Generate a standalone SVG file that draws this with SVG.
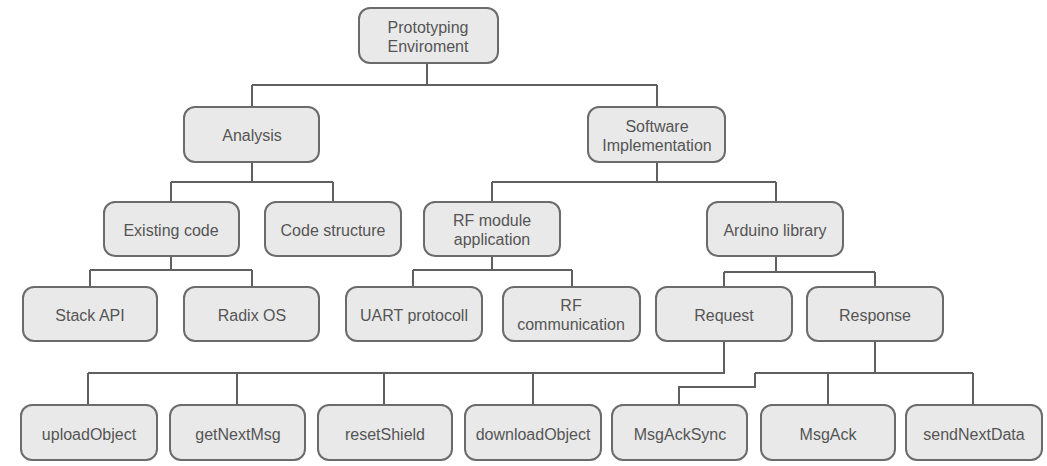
<svg xmlns="http://www.w3.org/2000/svg" width="1047" height="466" viewBox="0 0 1047 466">
<style>
.box{fill:#e9e9e9;stroke:#6b6b6b;stroke-width:2}
.t{font-family:"Liberation Sans",Arial,sans-serif;font-size:16px;fill:#555;text-anchor:middle;dominant-baseline:central}
.c{fill:none;stroke:#606060;stroke-width:2}
</style>
<rect width="1047" height="466" fill="#fff"/>
<g id="connectors" class="c">
<path d="M427 63V85M252 85H657M252 85V107M657 85V107"/>
<path d="M252 162V182M171 182H333M171 182V202M333 182V202"/>
<path d="M657 162V182M492 182H776M492 182V202M776 182V202"/>
<path d="M171 256V270M90 270H252M90 270V287M252 270V287"/>
<path d="M492 256V270M413 270H572M413 270V287M572 270V287"/>
<path d="M776 256V272M724 272H875M724 272V287M875 272V287"/>
<path d="M724 341V373H88M88 373V405M237 373V405M384 373V405M533 373V405"/>
<path d="M875 341V373M755 373H973M755 373V387H679V405M828 373V405M973 373V405"/>
</g>
<g id="root"><rect class="box" x="359" y="8" width="139" height="55" rx="11"/><text class="t" x="428" y="27">Prototyping</text><text class="t" x="428" y="46">Enviroment</text></g>
<g id="analysis"><rect class="box" x="184" y="107" width="135" height="55" rx="11"/><text class="t" x="252" y="135">Analysis</text></g>
<g id="software"><rect class="box" x="588" y="107" width="137" height="55" rx="11"/><text class="t" x="657" y="126">Software</text><text class="t" x="657" y="145">Implementation</text></g>
<g id="existing"><rect class="box" x="104" y="202" width="135" height="54" rx="11"/><text class="t" x="171" y="230">Existing code</text></g>
<g id="codestructure"><rect class="box" x="265" y="202" width="136" height="54" rx="11"/><text class="t" x="333" y="230">Code structure</text></g>
<g id="rfmodule"><rect class="box" x="424" y="202" width="136" height="54" rx="11"/><text class="t" x="492" y="220">RF module</text><text class="t" x="492" y="239">application</text></g>
<g id="arduino"><rect class="box" x="707" y="202" width="136" height="54" rx="11"/><text class="t" x="775" y="230">Arduino library</text></g>
<g id="stackapi"><rect class="box" x="23" y="287" width="134" height="54" rx="11"/><text class="t" x="90" y="315">Stack API</text></g>
<g id="radix"><rect class="box" x="184" y="287" width="135" height="54" rx="11"/><text class="t" x="252" y="315">Radix OS</text></g>
<g id="uart"><rect class="box" x="346" y="287" width="136" height="54" rx="11"/><text class="t" x="414" y="315">UART protocoll</text></g>
<g id="rfcomm"><rect class="box" x="503" y="287" width="137" height="54" rx="11"/><text class="t" x="571" y="305">RF</text><text class="t" x="571" y="324">communication</text></g>
<g id="request"><rect class="box" x="656" y="287" width="136" height="54" rx="11"/><text class="t" x="724" y="315">Request</text></g>
<g id="response"><rect class="box" x="807" y="287" width="136" height="54" rx="11"/><text class="t" x="875" y="315">Response</text></g>
<g id="upload"><rect class="box" x="21" y="405" width="136" height="55" rx="11"/><text class="t" x="89" y="434">uploadObject</text></g>
<g id="getnext"><rect class="box" x="170" y="405" width="135" height="55" rx="11"/><text class="t" x="238" y="434">getNextMsg</text></g>
<g id="reset"><rect class="box" x="318" y="405" width="134" height="55" rx="11"/><text class="t" x="385" y="434">resetShield</text></g>
<g id="download"><rect class="box" x="465" y="405" width="136" height="55" rx="11"/><text class="t" x="533" y="434">downloadObject</text></g>
<g id="msgacksync"><rect class="box" x="612" y="405" width="135" height="55" rx="11"/><text class="t" x="680" y="434">MsgAckSync</text></g>
<g id="msgack"><rect class="box" x="761" y="405" width="134" height="55" rx="11"/><text class="t" x="828" y="434">MsgAck</text></g>
<g id="sendnext"><rect class="box" x="906" y="405" width="136" height="55" rx="11"/><text class="t" x="974" y="434">sendNextData</text></g>
</svg>
